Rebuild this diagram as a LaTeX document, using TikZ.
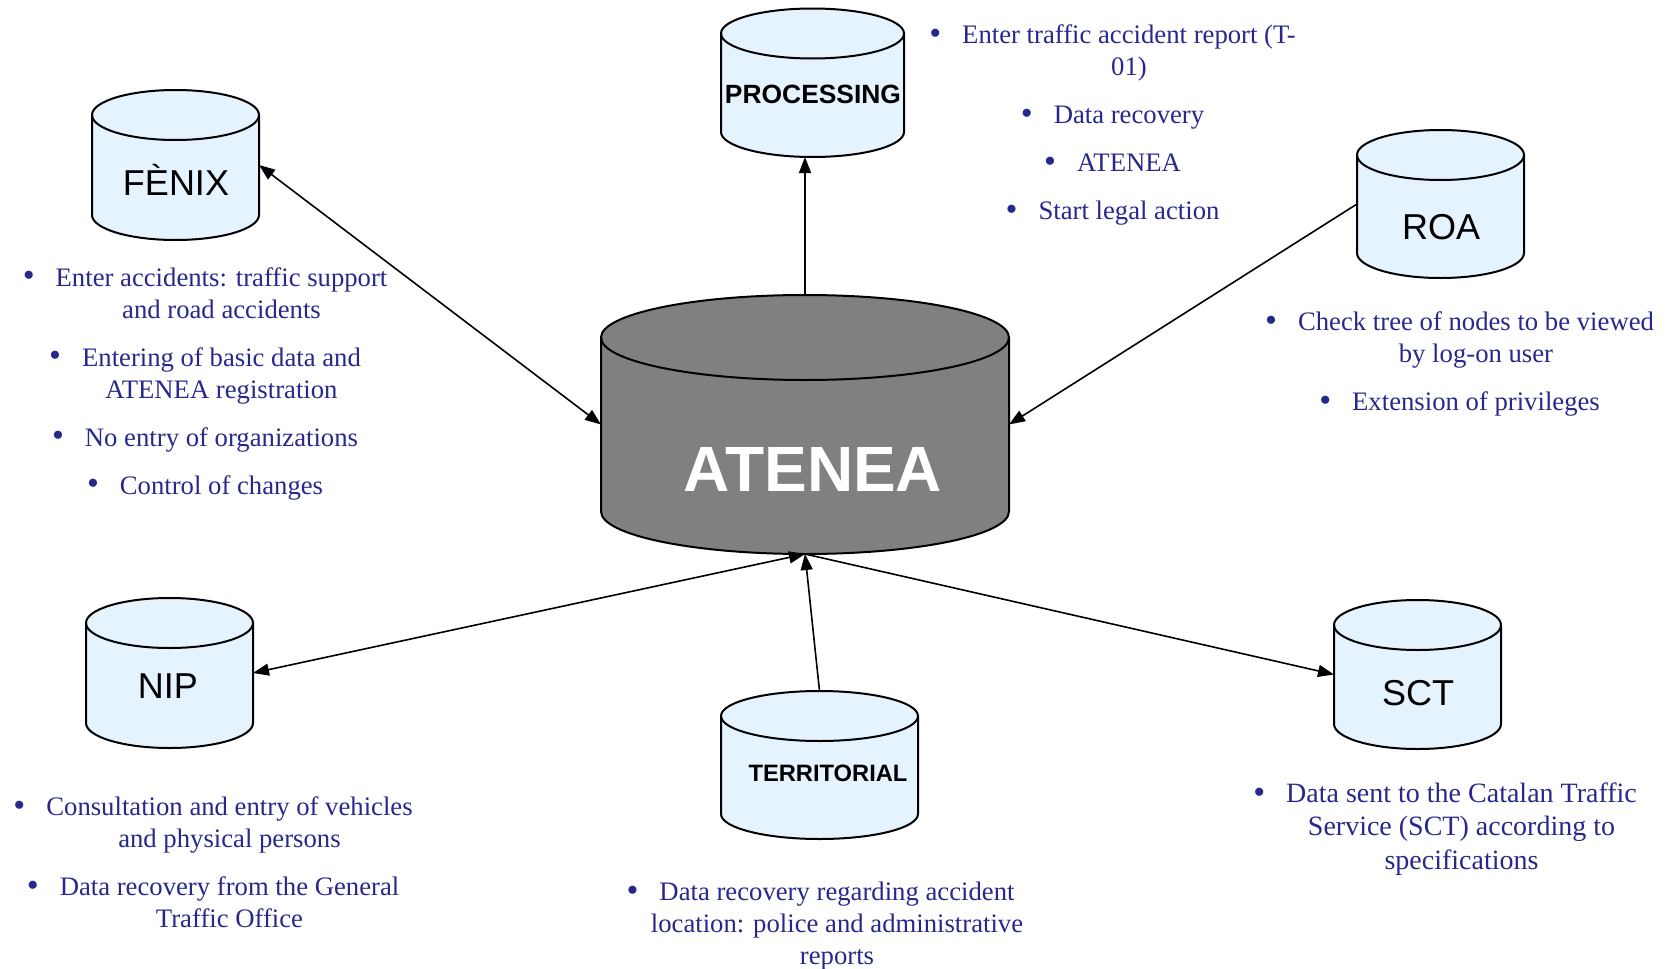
\documentclass[tikz,border=0pt]{standalone}
\usepackage{fontspec}
\setmainfont{Liberation Serif}
\newfontfamily\arialfont{Liberation Sans}
\usetikzlibrary{arrows.meta}
\definecolor{cylblue}{RGB}{228,243,253}
\definecolor{cylgray}{RGB}{128,128,128}
\definecolor{navytext}{RGB}{40,40,140}
\newcommand\bul{\llap{\raisebox{-0.4pt}{\fontsize{17}{16}\selectfont\textbullet}\hspace{10.5pt}}}
% #1 name, #2 cx, #3 cy (px, downwards), #4 width, #5 height, #6 ellipse y radius, #7 fill
\newcommand\dbcyl[7]{%
  \node[cylbox, minimum width={#4*0.5pt}, minimum height={#5*0.5pt}] (#1) at (#2,-#3) {};
  \path[cylline, fill=#7] ({#2-#4/2},{-#3+#5/2-#6}) -- ({#2-#4/2},{-#3-#5/2+#6})
     arc[start angle=180,end angle=360,x radius={#4/2},y radius={#6}]
     -- ({#2+#4/2},{-#3+#5/2-#6})
     arc[start angle=0,end angle=180,x radius={#4/2},y radius={#6}] -- cycle;
  \draw[cylline] ({#2-#4/2},{-#3+#5/2-#6})
     arc[start angle=180,end angle=360,x radius={#4/2},y radius={#6}];
}
\tikzset{
  cylbox/.style={rectangle, inner sep=0pt, outer sep=0pt, draw=none},
  cylline/.style={draw=black, line width=1pt},
  conn/.style={draw=black, line width=0.8pt},
  >={Triangle[length=8pt,width=6pt]},
  biglabel/.style={font=\arialfont\fontsize{18}{20}\selectfont, inner sep=0pt, anchor=base},
  proclabel/.style={font=\arialfont\bfseries\fontsize{13.2}{15}\selectfont, inner sep=0pt, anchor=base},
  terrlabel/.style={font=\arialfont\bfseries\fontsize{11.85}{14}\selectfont, inner sep=0pt, anchor=base},
  centrelabel/.style={font=\arialfont\bfseries\fontsize{32}{34}\selectfont, text=white, inner sep=0pt, anchor=base},
  note/.style={text=navytext, font=\fontsize{13.35}{16}\selectfont, align=center, inner sep=0pt},
  notewide/.style={text=navytext, font=\fontsize{14}{16.75}\selectfont, align=center, inner sep=0pt}
}
\begin{document}
\begin{tikzpicture}[x=0.5pt,y=0.5pt]
\useasboundingbox (0,0) rectangle (1666,-969);

\dbcyl{fenix}{175.5}{165}{167}{150}{25}{cylblue}
\dbcyl{processing}{812.5}{82.75}{183}{148.5}{25}{cylblue}
\dbcyl{roa}{1440.5}{204}{167}{148}{25}{cylblue}
\dbcyl{atenea}{805}{424.5}{408}{259}{42.5}{cylgray}
\dbcyl{nip}{169.5}{673}{167}{150}{25}{cylblue}
\dbcyl{territorial}{819.5}{765}{197}{148}{25}{cylblue}
\dbcyl{sct}{1417.5}{674.5}{167}{149}{25}{cylblue}

\node[biglabel] (fenixlbl) at (176,-195) {FÈNIX};
\node[biglabel] (roalbl) at (1441,-239) {ROA};
\node[biglabel] (niplbl) at (168,-698) {NIP};
\node[biglabel] (sctlbl) at (1418,-705) {SCT};
\node[proclabel] (proclbl) at (813,-103) {PROCESSING};
\node[terrlabel] (terrlbl) at (828,-781) {TERRITORIAL};
\node[centrelabel] (atenealbl) at (813,-491) {ATENEA};

\draw[conn,<->] (fenix.east) -- (atenea.west);
\draw[conn,->] (atenea.north) -- (atenea.north |- processing.south);
\draw[conn,->] (roa.west) -- (atenea.east);
\draw[conn,<->] (atenea.south) -- (nip.east);
\draw[conn,->] (territorial.north) -- (atenea.south);
\draw[conn,->] (atenea.south) -- (sct.west);

\node[note] (fenixnote) at (221.5,-383.5) {\bul Enter accidents: traffic support\\and road accidents\\[8pt]\bul Entering of basic data and\\ATENEA registration\\[8pt]\bul No entry of organizations\\[8pt]\bul Control of changes};
\node[note] (procnote) at (1129,-124.7) {\bul Enter traffic accident report (T-\\01)\\[8pt]\bul Data recovery\\[8pt]\bul ATENEA\\[8pt]\bul Start legal action};
\node[note] (roanote) at (1476,-364) {\bul Check tree of nodes to be viewed\\by log-on user\\[8pt]\bul Extension of privileges};
\node[note] (nipnote) at (229.5,-862.5) {\bul Consultation and entry of vehicles\\and physical persons\\[8pt]\bul Data recovery from the General\\Traffic Office};
\node[note] (terrnote) at (837,-926) {\bul Data recovery regarding accident\\location: police and administrative\\reports};
\node[notewide] (sctnote) at (1461.5,-829) {\bul Data sent to the Catalan Traffic\\Service (SCT) according to\\specifications};
\end{tikzpicture}
\end{document}
